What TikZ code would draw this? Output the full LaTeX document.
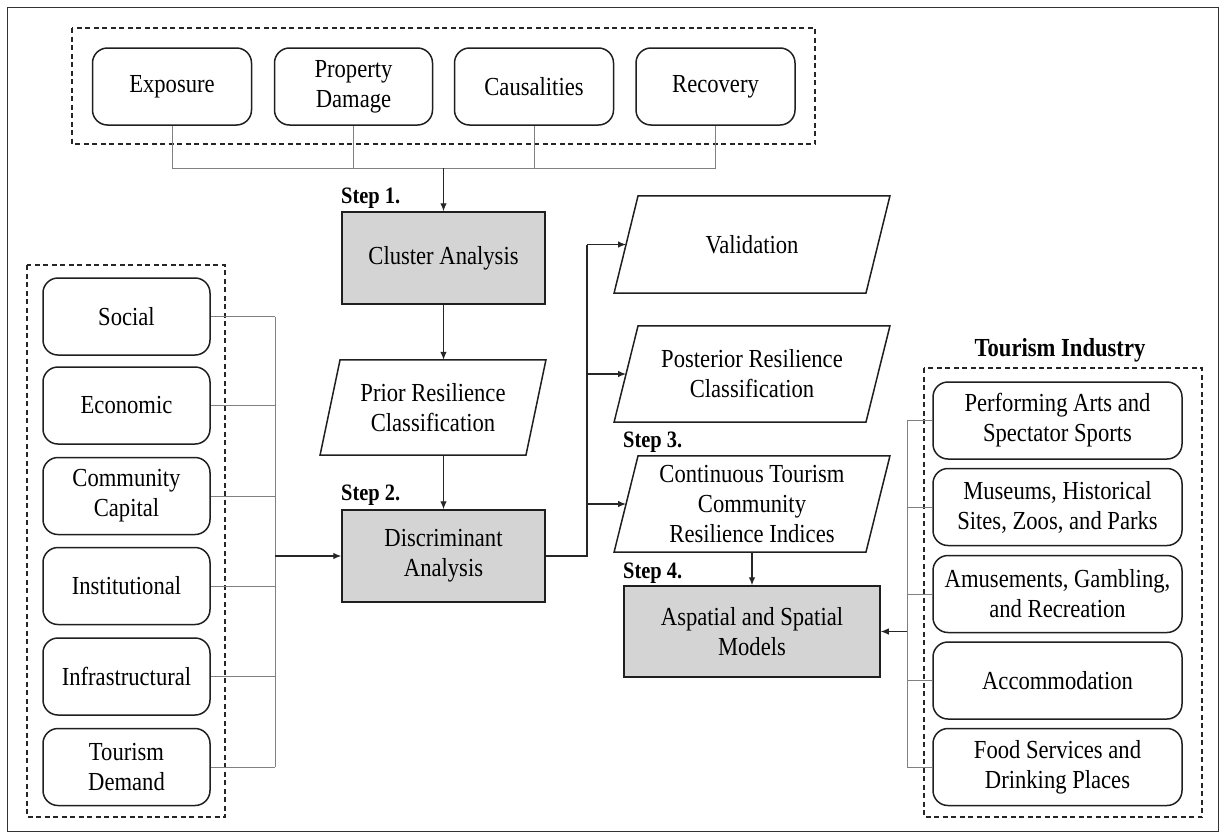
\documentclass[tikz,border=0pt]{standalone}
\usepackage{fontspec}
\setmainfont{Liberation Serif}[FakeStretch=0.87]
\usetikzlibrary{arrows.meta}
\tikzset{
  boxline/.style={draw=black!88, line width=1.5pt},
  rbox/.style={boxline, rounded corners=15pt, align=center, inner sep=0pt,
    font=\fontsize{26}{30}\selectfont, minimum height=77pt},
  gbox/.style={boxline, fill=black!17, align=center, inner sep=0pt,
    font=\fontsize{26}{30}\selectfont},
  ptext/.style={align=center, inner sep=0pt, font=\fontsize{26}{30}\selectfont},
  dashbox/.style={draw=black!85, line width=1.2pt, dash pattern=on 5pt off 3.5pt},
  steplabel/.style={anchor=west, inner sep=0pt, font=\fontsize{23.5}{26}\selectfont\bfseries},
  branch/.style={draw=black!50, line width=1pt},
  arrowline/.style={draw=black!85, line width=1.1pt, -{Latex[length=8pt,width=6.5pt]}},
  plainline/.style={draw=black!85, line width=1.1pt}
}
\newcommand{\paranode}[7]{%
  \node[ptext, minimum width=#4pt, minimum height=#5pt] (#1) at (#2,#3) {#7};
  \draw[boxline] ([xshift=-#6pt]#1.south west) -- ([xshift=#6pt]#1.north west)
    -- ([xshift=#6pt]#1.north east) -- ([xshift=-#6pt]#1.south east) -- cycle;}
\begin{document}
\begin{tikzpicture}[x=1pt,y=-1pt]
\useasboundingbox (0,0) rectangle (1221,833);
\draw[draw=black!80, line width=1pt] (7.5,7.5) rectangle (1218,831);

% top group
\draw[dashbox] (72,28) rectangle (815,144);
\node[rbox, minimum width=159pt] (exp) at (172,86.5) {Exposure};
\node[rbox, minimum width=158pt] (prop) at (353.5,86.5) {Property\\Damage};
\node[rbox, minimum width=159pt] (cas) at (534,86.5) {Causalities};
\node[rbox, minimum width=159pt] (rec) at (715.5,86.5) {Recovery};

% central column
\node[gbox, minimum width=203pt, minimum height=92pt] (cluster) at (443.5,258) {Cluster Analysis};
\paranode{prior}{433}{407.5}{205.5}{95}{10}{Prior Resilience\\Classification}
\node[gbox, minimum width=203pt, minimum height=92pt] (disc) at (443.5,556) {Discriminant\\Analysis};
\node[steplabel] (s1) at (341,198) {Step 1.};
\node[steplabel] (s2) at (341,495) {Step 2.};

% left group
\draw[dashbox] (27,265) rectangle (225,817);
\node[rbox, minimum width=167pt] (soc) at (126.5,316.5) {Social};
\node[rbox, minimum width=167pt] (eco) at (126.5,405.5) {Economic};
\node[rbox, minimum width=167pt] (com) at (126.5,496) {Community\\Capital};
\node[rbox, minimum width=167pt] (ins) at (126.5,586) {Institutional};
\node[rbox, minimum width=167pt] (inf) at (126.5,676.5) {Infrastructural};
\node[rbox, minimum width=167pt] (tdem) at (126.5,767) {Tourism\\Demand};

% right of centre
\paranode{val}{752}{244.5}{251.5}{97}{12}{Validation}
\paranode{post}{752}{374}{251.5}{96}{12}{Posterior Resilience\\Classification}
\paranode{cont}{752}{504}{251.5}{96}{12}{Continuous Tourism\\Community\\Resilience Indices}
\node[gbox, minimum width=256pt, minimum height=91pt] (asp) at (752,631.5) {Aspatial and Spatial\\Models};
\node[steplabel] (s3) at (623,442) {Step 3.};
\node[steplabel] (s4) at (623,573) {Step 4.};

% right group
\node[inner sep=0pt, font=\fontsize{26}{30}\selectfont\bfseries] (tind) at (1060,350) {Tourism Industry};
\draw[dashbox] (924,368) rectangle (1202,817);
\node[rbox, minimum width=249pt] (perf) at (1057.5,420.5) {Performing Arts and\\Spectator Sports};
\node[rbox, minimum width=249pt] (mus) at (1057.5,507) {Museums, Historical\\Sites, Zoos, and Parks};
\node[rbox, minimum width=249pt] (amu) at (1057.5,594) {Amusements, Gambling,\\and Recreation};
\node[rbox, minimum width=249pt] (acc) at (1057.5,680.5) {Accommodation};
\node[rbox, minimum width=249pt] (food) at (1057.5,767) {Food Services and\\Drinking Places};

% connectors: top
\coordinate (ybus) at (0,168);
\coordinate (tb) at (cluster.north |- ybus);
\draw[branch] (exp.south) -- (exp.south |- ybus) -- (rec.south |- ybus) -- (rec.south);
\draw[branch] (prop.south) -- (prop.south |- ybus);
\draw[branch] (cas.south) -- (cas.south |- ybus);
\draw[arrowline] (tb) -- (cluster.north);

% central flow
\draw[arrowline] (cluster.south) -- (cluster.south |- prior.north);
\draw[arrowline] (cluster.south |- prior.south) -- (disc.north);

% left connectors
\coordinate (lbx) at (275,0);
\foreach \n in {soc,eco,com,ins,inf,tdem} {\draw[branch] (\n.east) -- (\n.east -| lbx);}
\draw[branch] (soc.east -| lbx) -- (tdem.east -| lbx);
\draw[arrowline] (disc.west -| lbx) -- (disc.west);

% outputs of discriminant analysis
\coordinate (mbx) at (587,0);
\draw[plainline] (disc.east) -- (disc.east -| mbx) -- (val.west -| mbx);
\draw[arrowline] (val.west -| mbx) -- (val.west);
\draw[arrowline] (post.west -| mbx) -- (post.west);
\draw[arrowline] (cont.west -| mbx) -- (cont.west);
\draw[arrowline] (cont.south) -- (asp.north);

% right connectors
\coordinate (rbx) at (907,0);
\foreach \n in {perf,mus,amu,acc,food} {\draw[branch] (\n.west) -- (\n.west -| rbx);}
\draw[branch] (perf.west -| rbx) -- (food.west -| rbx);
\draw[arrowline] (asp.east -| rbx) -- (asp.east);
\end{tikzpicture}
\end{document}
